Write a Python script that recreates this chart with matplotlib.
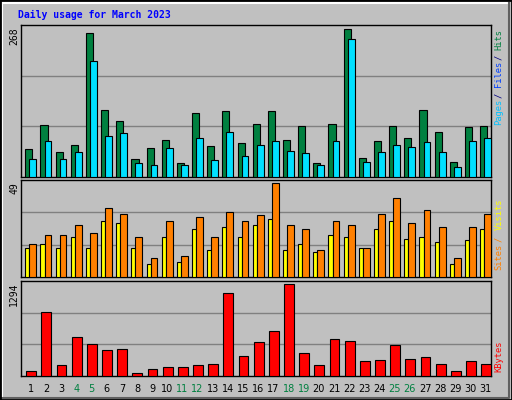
import matplotlib
matplotlib.use("Agg")
import matplotlib.pyplot as plt
from matplotlib.lines import Line2D

days = list(range(1, 32))
hits = [50,95,46,59,261,121,102,33,52,68,26,117,57,119,61,97,119,68,93,26,97,268,35,66,92,70,122,82,28,90,93]
files = [33,66,33,46,211,75,79,26,21,52,21,70,30,82,39,59,66,48,44,21,66,251,28,46,59,55,64,46,19,66,70]
pages = [8,41,21,33,17,41,44,13,6,17,6,28,15,53,15,35,44,46,15,8,24,21,12,21,41,17,24,15,12,26,26]
sites = [15,17,15,21,15,29,28,15,7,21,8,25,14,26,21,27,30,14,17,13,22,21,15,25,29,20,21,18,7,19,25]
visits = [17,22,22,27,23,36,33,21,10,29,11,31,21,34,29,32,49,27,25,14,29,27,15,33,41,28,35,26,10,26,33]
kbytes = [76,897,160,543,444,359,373,47,104,132,132,160,175,1166,274,472,628,1294,316,160,514,486,217,231,430,245,260,175,76,217,175]
weekends = [4,5,11,12,18,19,25,26]

W, H = 512, 400
fig = plt.figure(figsize=(W/100, H/100), dpi=100, facecolor="#c0c0c0")
mono = "DejaVu Sans Mono"

fig.add_artist(Line2D([2/W, 2/W, 509/W], [2/H, 397/H, 397/H], color="white", lw=1.5, transform=fig.transFigure))
fig.add_artist(Line2D([2/W, 509/W, 509/W], [2/H, 2/H, 397/H], color="#606060", lw=1.5, transform=fig.transFigure))
fig.add_artist(Line2D([0, 0, 1, 1, 0], [0, 1, 1, 0, 0], color="black", lw=2, transform=fig.transFigure))

fig.text(18/W, 1-15/H, "Daily usage for March 2023", color="#0000ff", fontsize=7, fontweight="bold",
         family=mono, va="center", ha="left")

def mkax(top, bottom):
    ax = fig.add_axes([21/W, 1-bottom/H, 470/W, (bottom-top)/H])
    ax.set_facecolor("#c0c0c0")
    ax.set_xlim(0, 31)
    ax.set_xticks([]); ax.set_yticks([])
    for s in ax.spines.values():
        s.set_color("black"); s.set_linewidth(1)
    return ax

def bars(ax, vals, x0, x1, color):
    ax.bar([i + x0 for i in range(31)], vals, width=x1-x0, align="edge", color=color,
           edgecolor="black", linewidth=0.8, zorder=3)

def grid(ax, top):
    for f in (1/3, 2/3):
        ax.axhline(top*f, color="#808080", lw=1, zorder=1)

ax1 = mkax(25, 177)
ax1.set_ylim(0, max(hits)*1.03)
grid(ax1, max(hits)*1.03)
bars(ax1, hits, 0.28, 0.75, "#008040")
bars(ax1, files, 0.55, 1.0, "#00e0ff")
ax1.bar([i + 0.42 for i in range(31)], pages, width=0.12, align="edge", color="#0040ff",
        edgecolor="black", linewidth=0.5, zorder=2)

ax2 = mkax(180, 277)
ax2.set_ylim(0, max(visits)*1.03)
grid(ax2, max(visits)*1.03)
bars(ax2, sites, 0.28, 0.55, "#ffff00")
bars(ax2, visits, 0.55, 1.0, "#ff8000")

ax3 = mkax(281, 376)
ax3.set_ylim(0, max(kbytes)*1.03)
grid(ax3, max(kbytes)*1.03)
bars(ax3, kbytes, 0.35, 1.0, "#ff0000")

for ytop, txt in [(27, "268"), (182, "49"), (283, "1294")]:
    fig.text(14/W, 1-ytop/H, txt, rotation=90, fontsize=7, family=mono, va="top", ha="center", color="black")

def rlabel(ytop, parts, cw=5.4):
    y = ytop
    for txt, col in parts:
        fig.text(499/W, 1-y/H, txt, rotation=90, fontsize=6.3, family=mono, va="top", ha="center", color=col)
        y += cw*len(txt)

rlabel(29, [("Hits", "#008040"), ("/", "#000080"), ("Files", "#0040ff"), ("/", "#000080"), ("Pages", "#00c0ff")], cw=5.4*20/17)
rlabel(198, [("Visits", "#ffff00"), ("/", "#ff8000"), ("Sites", "#ff8000")], cw=5.6*14/12)
rlabel(341, [("KBytes", "#ff0000")])

for i, d in enumerate(days):
    x = 21 + (i + 0.65) * 470/31
    fig.text(x/W, 1-389/H, str(d), fontsize=7, ha="center", va="center",
             color="#008040" if d in weekends else "black")

fig.savefig("out.png", dpi=100, facecolor=fig.get_facecolor())
